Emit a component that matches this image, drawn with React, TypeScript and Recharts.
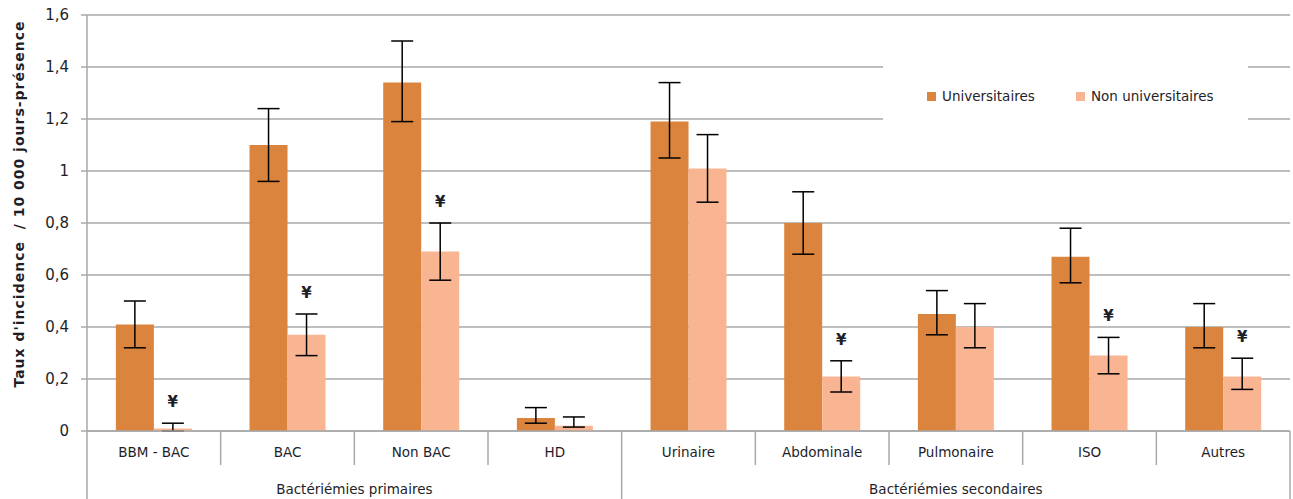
import React from 'react';
import { ComposedChart, Bar, Line, XAxis, YAxis, CartesianGrid, ErrorBar, Legend } from 'recharts';

const categories = ['BBM - BAC', 'BAC', 'Non BAC', 'HD', 'Urinaire', 'Abdominale', 'Pulmonaire', 'ISO', 'Autres'];
const groupLabels = ['Bactériémies primaires', 'Bactériémies secondaires'];
const groupSizes = [4, 5];

const univ = [0.41, 1.10, 1.34, 0.05, 1.19, 0.80, 0.45, 0.67, 0.40];
const univLow = [0.32, 0.96, 1.19, 0.03, 1.05, 0.68, 0.37, 0.57, 0.32];
const univHigh = [0.50, 1.24, 1.50, 0.09, 1.34, 0.92, 0.54, 0.78, 0.49];

const nonUniv = [0.01, 0.37, 0.69, 0.02, 1.01, 0.21, 0.40, 0.29, 0.21];
const nonLow = [0.0, 0.29, 0.58, 0.015, 0.88, 0.15, 0.32, 0.22, 0.16];
const nonHigh = [0.03, 0.45, 0.80, 0.054, 1.14, 0.27, 0.49, 0.36, 0.28];

const significant = [true, true, true, false, false, true, false, true, true];

const yTicks = [0, 0.2, 0.4, 0.6, 0.8, 1, 1.2, 1.4, 1.6];

const seriesNames = ['Universitaires', 'Non universitaires'];
const colors = ['#DB843D', '#F9B592'];
const yTitle = "Taux d'incidence\u00A0\u00A0/ 10 000 jours-présence";

const FONT = '"DejaVu Sans", Verdana, sans-serif';
const TEXT = '#1e1e28';
const GRID = '#A8A8A8';

const data = categories.map((cat, i) => ({
  cat,
  u: univ[i],
  uErr: [univ[i] - univLow[i], univHigh[i] - univ[i]],
  n: nonUniv[i],
  nErr: [nonUniv[i] - nonLow[i], nonHigh[i] - nonUniv[i]],
  mark: significant[i] ? nonHigh[i] : null,
}));

const groupStarts: number[] = [];
{
  let acc = 0;
  groupSizes.forEach((s) => {
    groupStarts.push(acc);
    acc += s;
  });
}

const XTick = (props: any) => {
  const { x, y, payload, index, width } = props;
  let band = payload && payload.offset ? payload.offset * 2 : 0;
  if (!band && width) band = width / categories.length;
  if (!band) band = 1203 / categories.length;
  const left = x - band / 2;
  const gi = groupStarts.indexOf(index);
  const isLast = index === categories.length - 1;
  return (
    <g>
      <line x1={left} x2={left} y1={y} y2={gi >= 0 ? y + 68 : y + 34} stroke={GRID} strokeWidth={1.5} />
      {isLast && <line x1={left + band} x2={left + band} y1={y} y2={y + 68} stroke={GRID} strokeWidth={1.5} />}
      <text x={x} y={y + 21} textAnchor="middle" dominantBaseline="central" fontSize={13.5} fontFamily={FONT} fill={TEXT}>
        {payload.value}
      </text>
      {gi >= 0 && (
        <text
          x={left + (groupSizes[gi] * band) / 2}
          y={y + 58}
          textAnchor="middle"
          dominantBaseline="central"
          fontSize={13.5}
          fontFamily={FONT}
          fill={TEXT}
        >
          {groupLabels[gi]}
        </text>
      )}
    </g>
  );
};

const MarkDot = (props: any) => {
  const { cx, cy, index } = props;
  if (cx == null || cy == null || Number.isNaN(cy)) return <g key={`m${index}`} />;
  return (
    <text
      key={`m${index}`}
      x={cx + 19}
      y={cy - 21}
      textAnchor="middle"
      dominantBaseline="central"
      fontSize={15}
      fontWeight="bold"
      fontFamily={FONT}
      fill={TEXT}
    >
      ¥
    </text>
  );
};

const LegendContent = () => (
  <div style={{ display: 'flex', alignItems: 'center', height: '100%', paddingLeft: 44, fontFamily: FONT, fontSize: 13.5, color: TEXT }}>
    {seriesNames.map((name, i) => (
      <div key={name} style={{ display: 'flex', alignItems: 'center', width: 149 }}>
        <span style={{ display: 'inline-block', width: 9, height: 9, background: colors[i], marginRight: 6 }} />
        <span>{name}</span>
      </div>
    ))}
  </div>
);

const YLabel = () => (
  <text
    transform="translate(19,204) rotate(-90)"
    textAnchor="middle"
    dominantBaseline="central"
    fontSize={14}
    letterSpacing={1}
    fontWeight="bold"
    fontFamily={FONT}
    fill={TEXT}
  >
    {yTitle}
  </text>
);

export default function App() {
  return (
    <div style={{ position: 'absolute', left: 0, top: 0, width: 1293, height: 499, background: '#fff' }}>
      <ComposedChart
        width={1293}
        height={499}
        data={data}
        margin={{ top: 15, right: 3, bottom: 0, left: 0 }}
        barCategoryGap="21.6%"
        barGap={0}
      >
        <CartesianGrid vertical={false} stroke={GRID} strokeWidth={1.5} />
        <XAxis
          dataKey="cat"
          interval={0}
          height={68}
          tickSize={0}
          tickMargin={0}
          tickLine={false}
          axisLine={{ stroke: GRID, strokeWidth: 1.5 }}
          tick={<XTick />}
        />
        <YAxis
          domain={[0, 1.6]}
          ticks={yTicks}
          width={87}
          tickSize={6}
          tickMargin={12}
          tickLine={{ stroke: GRID, strokeWidth: 1.5 }}
          axisLine={{ stroke: GRID, strokeWidth: 1.5 }}
          tick={{ fontSize: 15, fontFamily: FONT, fill: TEXT }}
          tickFormatter={(v: number) => String(v).replace('.', ',')}
          label={{ content: () => <YLabel /> }}
        />
        <Bar dataKey="u" name={seriesNames[0]} fill={colors[0]} isAnimationActive={false}>
          <ErrorBar dataKey="uErr" width={11} stroke="#000" strokeWidth={1.5} direction="y" />
        </Bar>
        <Bar dataKey="n" name={seriesNames[1]} fill={colors[1]} isAnimationActive={false}>
          <ErrorBar dataKey="nErr" width={11} stroke="#000" strokeWidth={1.5} direction="y" />
        </Bar>
        <Line
          dataKey="mark"
          stroke="none"
          legendType="none"
          dot={<MarkDot />}
          activeDot={false}
          connectNulls={false}
          isAnimationActive={false}
        />
        <Legend
          layout="horizontal"
          verticalAlign="middle"
          align="center"
          content={<LegendContent />}
          wrapperStyle={{ position: 'absolute', left: 883, top: 56, width: 365, height: 80, background: '#fff' }}
        />
      </ComposedChart>
    </div>
  );
}
